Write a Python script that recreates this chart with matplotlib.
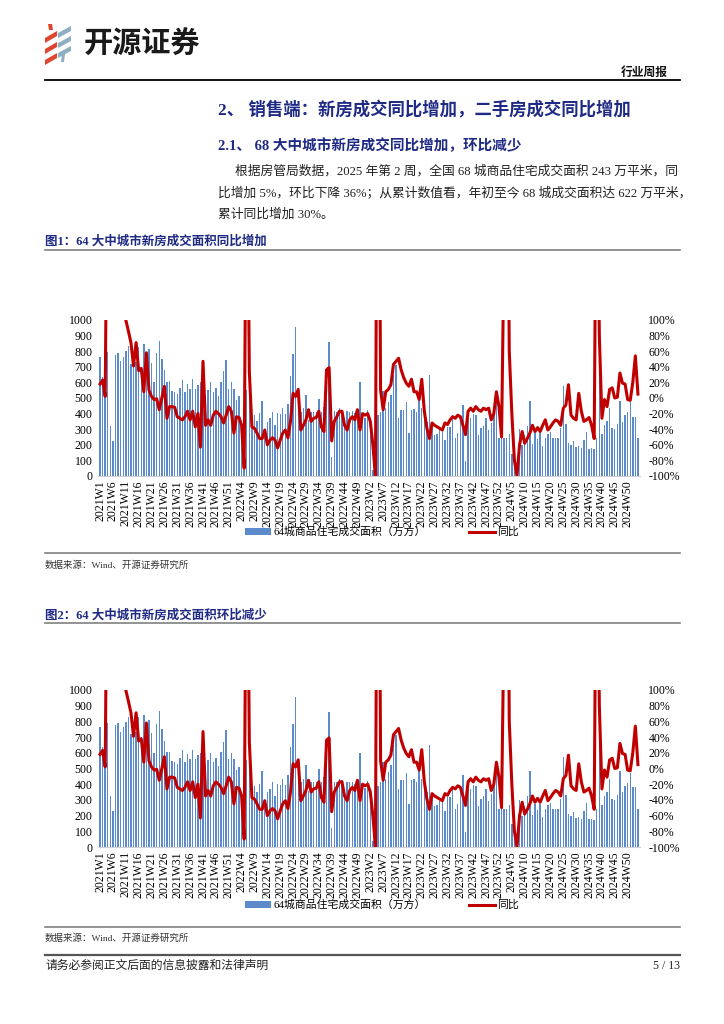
import matplotlib
matplotlib.use("Agg")
import numpy as np
import matplotlib.pyplot as plt
from matplotlib.patches import Polygon, Patch
from matplotlib.lines import Line2D

plt.rcParams["font.family"] = ["Liberation Serif", "Noto Sans CJK SC"]

# ---- data -------------------------------------------------------------
years = [2021, 2022, 2023, 2024, 2025]
weeks_per_year = [52, 52, 52, 52, 2]
week_labels = [f"{y}W{w}" for y, n in zip(years, weeks_per_year) for w in range(1, n + 1)]

# 64城商品住宅成交面积（万方）
area_2021 = [762, 637, 752, 792, 323, 227, 775, 787, 735, 766,
             799, 831, 720, 700, 733, 830, 700, 843, 730, 811,
             723, 601, 786, 866, 753, 677, 602, 606, 546, 541,
             528, 564, 618, 541, 590, 560, 619, 560, 585, 600,
             598, 521, 554, 601, 541, 567, 514, 602, 671, 746,
             560, 600]
area_2022 = [559, 488, 510, 305, 58, 553, 499, 338, 391, 353,
             402, 482, 295, 348, 370, 413, 327, 402, 396, 434,
             396, 460, 639, 783, 955, 553, 413, 434, 520, 359,
             413, 413, 413, 495, 413, 445, 585, 860, 123, 417,
             413, 434, 424, 331, 417, 413, 417, 402, 391, 600,
             391, 374]
area_2023 = [420, 284, 37, 8, 391, 413, 542, 434, 477, 520,
             649, 714, 370, 424, 424, 473, 273, 424, 430, 413,
             482, 434, 374, 348, 649, 316, 262, 267, 295, 295,
             230, 316, 316, 391, 245, 273, 391, 456, 95, 370,
             370, 396, 391, 262, 305, 323, 370, 295, 338, 413,
             538, 245]
area_2024 = [241, 245, 245, 267, 144, 60, 8, 301, 198, 262,
             323, 482, 202, 273, 234, 273, 194, 245, 267, 280,
             241, 241, 241, 305, 574, 331, 209, 198, 224, 187,
             194, 181, 230, 280, 176, 181, 170, 241, 850, 267,
             327, 353, 434, 305, 301, 331, 482, 348, 391, 409,
             473, 381]
area_2025 = [380, 245]

# 同比 (%)
yoy_2021 = [18, 23, 2, 400, 1500, 1500, 900, 600, 300, 160,
            100, 86, 71, 41, 71, 35, 38, 8, 58, 10,
            2, -2, -1, -15, 0, 15, -26, -11, -11, -12,
            -24, -26, -28, -24, -17, -28, -17, -37, -20, -63,
            47, -35, -28, -35, -22, -17, -20, -24, -32, -22,
            -11, -17]
yoy_2022 = [-45, -24, -25, -35, -90, 400, 34, -37, -39, -45,
            -52, -52, -41, -60, -54, -51, -54, -64, -54, -45,
            -41, -51, -30, 6, 2, 11, -41, -35, -28, -15,
            -30, -26, -25, -17, -37, -43, 36, 39, -55, -30,
            -24, -17, -17, -35, -41, -28, -24, -28, -15, -41,
            -20, -22]
yoy_2023 = [-20, -30, -60, -100, 600, 10, -15, 8, 11, 17,
            43, 47, 51, 36, 26, 19, 15, 24, 8, 8,
            -2, 24, -17, -39, -52, -32, -35, -37, -39, -41,
            -32, -34, -28, -24, -26, -22, -24, -35, -47, -17,
            -13, -17, -11, -15, -17, -13, -15, -13, -28, -20,
            8, -11]
yoy_2024 = [-50, 200, 500, 60, -20, -80, -100, -60, -43, -58,
            -52, -45, -35, -43, -38, -43, -35, -28, -41, -37,
            -32, -28, -30, -35, -13, -9, 17, -22, -26, -28,
            6, -17, -30, -28, -25, -35, -52, 400, 80, -26,
            -2, -11, 11, 13, 0, 1, 32, 19, 18, -2,
            -3, 20]
yoy_2025 = [54, 5]

area = area_2021 + area_2022 + area_2023 + area_2024 + area_2025
yoy = yoy_2021 + yoy_2022 + yoy_2023 + yoy_2024 + yoy_2025

BAR_BLUE = "#5B8BCB"
LINE_RED = "#C00000"
NAVY = "#1F2A85"
CJK = ["Noto Sans CJK SC", "DejaVu Sans"]
MIX = ["Liberation Serif", "Noto Sans CJK SC"]

W, H = 724, 1024


def fx(px):
    return px / W


def fy(py):
    return 1 - py / H


def draw_chart(fig, top, bottom, legend_y):
    left, right = 98, 640
    ax = fig.add_axes([fx(left), fy(bottom), fx(right - left), (bottom - top) / H])
    x = np.arange(len(area))
    ax.bar(x, area, width=0.55, color=BAR_BLUE, zorder=2)
    ax.set_xlim(-0.8, len(x) - 0.2)
    ax.set_ylim(0, 1000)
    ax.set_yticks(range(0, 1001, 100))
    ax.set_xticks(x[::5])
    ax.set_xticklabels(week_labels[::5], rotation=90, fontsize=8.5,
                       family="Liberation Serif")
    ax.tick_params(axis="both", length=0, labelsize=8.5)
    ax.tick_params(axis="y", pad=4)
    ax.tick_params(axis="x", pad=3)
    for s in ["top", "left", "right"]:
        ax.spines[s].set_visible(False)
    ax.spines["bottom"].set_color("#d0d0d0")
    ax.set_facecolor("none")

    ax2 = ax.twinx()
    ax2.plot(x, yoy, color=LINE_RED, lw=2.2, solid_joinstyle="round", zorder=3)
    ax2.set_ylim(-100, 100)
    ticks = list(range(-100, 101, 20))
    ax2.set_yticks(ticks)
    ax2.set_yticklabels([f"{t}%" for t in ticks])
    ax2.tick_params(axis="y", length=0, pad=6, labelsize=8.5)
    for s in ["top", "left", "right", "bottom"]:
        ax2.spines[s].set_visible(False)

    handles = [Patch(facecolor=BAR_BLUE, edgecolor="none"),
               Line2D([], [], color=LINE_RED, lw=2.2)]
    labels = ["64城商品住宅成交面积（万方）", "同比"]
    fig.legend(handles, labels, loc="center", bbox_to_anchor=(fx(382), fy(legend_y)),
               ncol=2, frameon=False, prop={"family": MIX, "size": 7.8},
               handlelength=2.4, handleheight=0.55, handletextpad=0.2,
               columnspacing=4.0)


fig = plt.figure(figsize=(W / 100, H / 100), dpi=100)
fig.patch.set_facecolor("white")

page = fig.add_axes([0, 0, 1, 1])
page.set_xlim(0, W)
page.set_ylim(H, 0)
page.axis("off")

# logo
red = "#E0452F"
grey = "#8EAEC2"
for dy in (0, 11, 22):
    page.add_patch(Polygon([(45, 38 + dy), (57, 31 + dy), (57, 36 + dy), (45, 43 + dy)],
                           closed=True, color=red, lw=0))
page.add_patch(Polygon([(48, 24), (52, 24), (53, 30), (49, 30)], closed=True, color=red, lw=0))
for dy in (0, 10, 20):
    page.add_patch(Polygon([(58, 33 + dy), (71, 26 + dy), (71, 31 + dy), (58, 38 + dy)],
                           closed=True, color=grey, lw=0))
page.add_patch(Polygon([(62, 54), (65, 54), (64, 62), (61, 62)], closed=True, color=grey, lw=0))
page.text(84, 44, "开源证券", fontsize=21, fontweight="bold", family=CJK,
          color="#1a1a1a", va="center", ha="left")

page.text(668, 72, "行业周报", fontsize=8.5, fontweight="bold", family=CJK,
          color="#111111", va="center", ha="right")
page.plot([45, 680], [80, 80], color="black", lw=1.3)

page.text(218, 110, "2、 销售端：新房成交同比增加，二手房成交同比增加", fontsize=12.5,
          fontweight="bold", family=MIX, color=NAVY, va="center", ha="left")
page.text(218, 146, "2.1、 68 大中城市新房成交同比增加，环比减少", fontsize=10.5,
          fontweight="bold", family=MIX, color=NAVY, va="center", ha="left")

body = ["根据房管局数据，2025 年第 2 周，全国 68 城商品住宅成交面积 243 万平米，同",
        "比增加 5%，环比下降 36%；从累计数值看，年初至今 68 城成交面积达 622 万平米，",
        "累计同比增加 30%。"]
page.text(235, 171, body[0], fontsize=9.2, family=MIX, color="#222222", va="center")
page.text(218, 193, body[1], fontsize=9.2, family=MIX, color="#222222", va="center")
page.text(218, 215, body[2], fontsize=9.2, family=MIX, color="#222222", va="center")

page.text(45, 241, "图1：64 大中城市新房成交面积同比增加", fontsize=9, fontweight="bold",
          family=MIX, color=NAVY, va="center")
page.plot([45, 680], [250, 250], color="#808080", lw=1.2)
page.plot([45, 680], [553, 553], color="#808080", lw=1.2)
page.text(45, 565, "数据来源：Wind、开源证券研究所", fontsize=6.8, family=MIX,
          color="#333333", va="center")

page.text(45, 615, "图2：64 大中城市新房成交面积环比减少", fontsize=9, fontweight="bold",
          family=MIX, color=NAVY, va="center")
page.plot([45, 680], [623, 623], color="#808080", lw=1.2)
page.plot([45, 680], [927, 927], color="#808080", lw=1.2)
page.text(45, 938, "数据来源：Wind、开源证券研究所", fontsize=6.8, family=MIX,
          color="#333333", va="center")

page.plot([45, 680], [955, 955], color="#555555", lw=1.6)
page.text(45, 966, "请务必参阅正文后面的信息披露和法律声明", fontsize=8.5, family=MIX,
          color="#222222", va="center")
page.text(680, 966, "5 / 13", fontsize=8.5, family=MIX, color="#222222",
          va="center", ha="right")

draw_chart(fig, 320, 476, 532)
draw_chart(fig, 690, 847, 905)

fig.savefig("out.png", dpi=100, facecolor="white")
